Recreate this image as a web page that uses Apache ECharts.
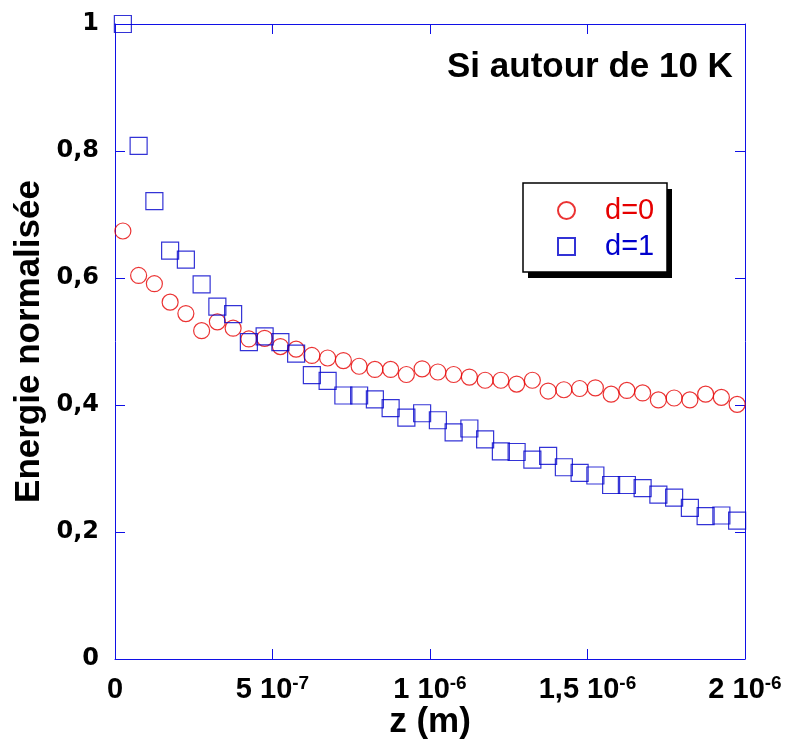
<!DOCTYPE html>
<html>
<head>
<meta charset="utf-8">
<script src="https://cdn.jsdelivr.net/npm/echarts@6/dist/echarts.min.js"></script>
<style>
    html, body { margin: 0; padding: 0; background: #ffffff; }
    #chart { width: 785px; height: 742px; }
</style>
</head>
<body>
<div id="chart"></div>
<script>
    // z (m)
    var zValues = [2.5e-8, 7.5e-8, 1.25e-7, 1.75e-7, 2.25e-7, 2.75e-7, 3.25e-7, 3.75e-7, 4.25e-7, 4.75e-7,
        5.25e-7, 5.75e-7, 6.25e-7, 6.75e-7, 7.25e-7, 7.75e-7, 8.25e-7, 8.75e-7, 9.25e-7, 9.75e-7,
        1.025e-6, 1.075e-6, 1.125e-6, 1.175e-6, 1.225e-6, 1.275e-6, 1.325e-6, 1.375e-6, 1.425e-6, 1.475e-6,
        1.525e-6, 1.575e-6, 1.625e-6, 1.675e-6, 1.725e-6, 1.775e-6, 1.825e-6, 1.875e-6, 1.925e-6, 1.975e-6];
    // d=0
    var energyD0 = [0.674, 0.604, 0.591, 0.562, 0.544, 0.517, 0.531, 0.521, 0.504, 0.505,
        0.492, 0.488, 0.478, 0.474, 0.470, 0.461, 0.456, 0.456, 0.448, 0.457,
        0.452, 0.448, 0.444, 0.439, 0.439, 0.433, 0.439, 0.422, 0.424, 0.426,
        0.427, 0.417, 0.423, 0.419, 0.408, 0.411, 0.408, 0.417, 0.412, 0.401];
    // d=1
    var energyD1 = [1.0, 0.808, 0.721, 0.643, 0.629, 0.590, 0.555, 0.543, 0.499, 0.508,
        0.499, 0.481, 0.447, 0.438, 0.415, 0.415, 0.409, 0.395, 0.380, 0.387,
        0.376, 0.357, 0.363, 0.346, 0.327, 0.326, 0.314, 0.320, 0.302, 0.293,
        0.289, 0.274, 0.274, 0.269, 0.259, 0.254, 0.238, 0.225, 0.226, 0.218];
    var yTickLabels = ['0', '0,2', '0,4', '0,6', '0,8', '1'];
    var xTickMantissa = ['0', '5 10', '1 10', '1,5 10', '2 10'];
    var xTickExponent = ['', '-7', '-6', '-6', '-6'];

    var blue = '#1010e6';
    var wide = '"DejaVu Sans", Verdana, sans-serif';
    var sans = '"Liberation Sans", Arial, Helvetica, sans-serif';

    function pairs(ys) {
        return ys.map(function (y, i) { return [zValues[i], y]; });
    }

    var boxAxis = {
        axisLine: { show: true, onZero: false, lineStyle: { color: blue, width: 1 } },
        axisTick: { show: true, inside: true, length: 10, lineStyle: { color: blue, width: 1 } },
        splitLine: { show: false }
    };

    var chart = echarts.init(document.getElementById('chart'), null, { renderer: 'canvas' });
    var options = {
        backgroundColor: '#ffffff',
        animation: false,
        title: {
            text: 'Si autour de 10 K',
            left: 447,
            top: 50,
            padding: 0,
            textStyle: { fontFamily: sans, fontSize: 35, fontWeight: 'bold', color: '#000000' }
        },
        // legend frame with its hard black shadow
        graphic: [
            {
                type: 'rect',
                z: 1,
                shape: { x: 528, y: 189, width: 144, height: 89 },
                style: { fill: '#000000' }
            },
            {
                type: 'rect',
                z: 2,
                shape: { x: 523, y: 183, width: 144, height: 89 },
                style: { fill: '#ffffff', stroke: '#000000', lineWidth: 1.5 }
            }
        ],
        legend: {
            orient: 'vertical',
            left: 557,
            top: 196,
            padding: 0,
            itemGap: 7,
            itemWidth: 17,
            itemHeight: 17,
            z: 10,
            textStyle: { fontFamily: sans, fontSize: 29, lineHeight: 29, padding: [0, 0, 0, 25] },
            data: [
                { name: 'd=0', textStyle: { color: '#e60000' } },
                { name: 'd=1', textStyle: { color: '#0000cc' } }
            ]
        },
        grid: { left: 115, right: 40, top: 24, bottom: 83, containLabel: false, outerBoundsMode: 'none' },
        xAxis: [
            Object.assign({}, boxAxis, {
                type: 'value',
                position: 'bottom',
                min: 0,
                max: 2e-6,
                interval: 5e-7,
                name: 'z (m)',
                nameLocation: 'middle',
                nameGap: 46,
                nameMoveOverlap: false,
                nameTextStyle: { fontFamily: sans, fontSize: 35, fontWeight: 'bold', color: '#000000' },
                axisLabel: {
                    margin: 15,
                    formatter: function (v) {
                        var i = Math.round(v / 5e-7);
                        if (!xTickExponent[i]) return '{m|' + xTickMantissa[i] + '}';
                        return '{m|' + xTickMantissa[i] + '}{e|' + xTickExponent[i] + '}';
                    },
                    rich: {
                        m: { fontFamily: sans, fontSize: 29, fontWeight: 'bold', color: '#000000', lineHeight: 32 },
                        e: { fontFamily: sans, fontSize: 19, fontWeight: 'bold', color: '#000000', lineHeight: 18, verticalAlign: 'top' }
                    }
                }
            }),
            Object.assign({}, boxAxis, {
                type: 'value',
                position: 'top',
                min: 0,
                max: 2e-6,
                interval: 5e-7,
                axisLabel: { show: false }
            })
        ],
        yAxis: [
            Object.assign({}, boxAxis, {
                type: 'value',
                position: 'left',
                min: 0,
                max: 1,
                interval: 0.2,
                name: 'Energie normalisée',
                nameLocation: 'middle',
                nameGap: 68,
                nameMoveOverlap: false,
                nameTextStyle: { fontFamily: sans, fontSize: 35, fontWeight: 'bold', color: '#000000' },
                axisLabel: {
                    margin: 16,
                    fontFamily: wide,
                    fontSize: 24,
                    fontWeight: 'bold',
                    color: '#000000',
                    formatter: function (v) {
                        return yTickLabels[Math.round(v / 0.2)];
                    }
                }
            }),
            Object.assign({}, boxAxis, {
                type: 'value',
                position: 'right',
                min: 0,
                max: 1,
                interval: 0.2,
                axisLabel: { show: false }
            })
        ],
        series: [
            {
                name: 'd=0',
                type: 'scatter',
                clip: false,
                symbol: 'circle',
                symbolSize: 16,
                itemStyle: { color: 'rgba(255,255,255,0)', borderColor: '#e60000', borderWidth: 1.2 },
                data: pairs(energyD0)
            },
            {
                name: 'd=1',
                type: 'scatter',
                clip: false,
                symbol: 'rect',
                symbolSize: 17,
                itemStyle: { color: 'rgba(255,255,255,0)', borderColor: '#0000cc', borderWidth: 1.2 },
                data: pairs(energyD1)
            }
        ]
    };
    chart.setOption(options);
</script>
</body>
</html>
